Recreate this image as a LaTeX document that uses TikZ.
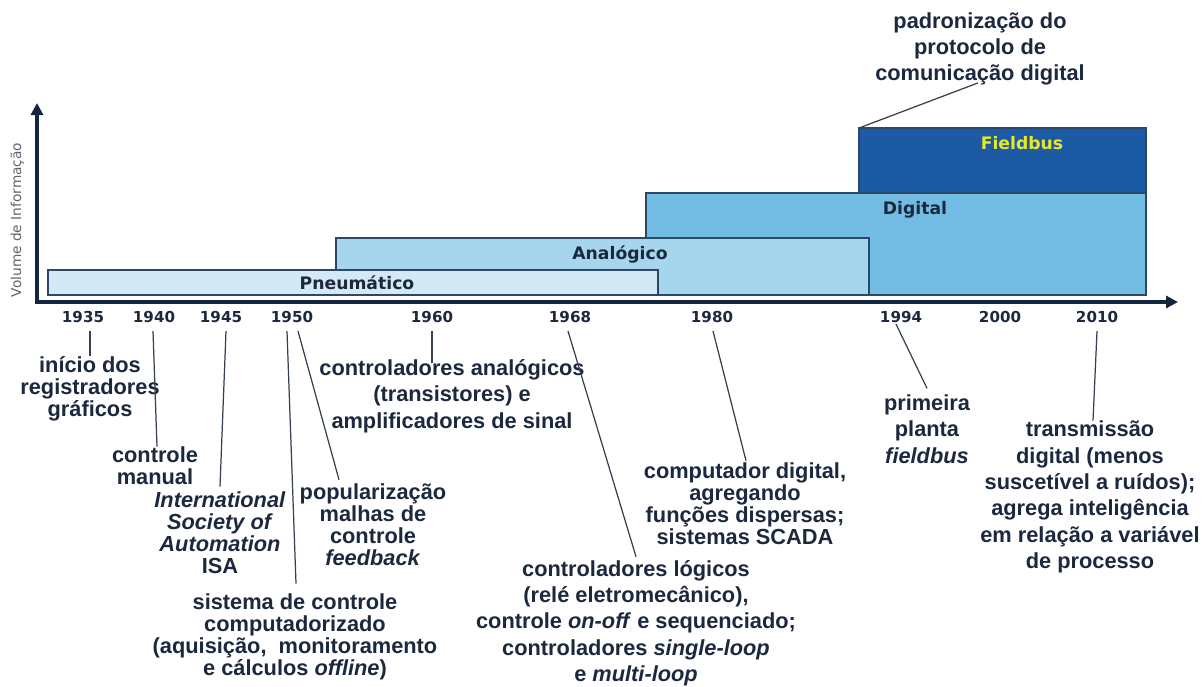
\documentclass[tikz,border=0pt]{standalone}
\usepackage{fontspec}
\setmainfont{Liberation Sans}
\newfontfamily\verdfont{DejaVu Sans}
\usetikzlibrary{%
	calc,%
	arrows.meta,%
}
\definecolor{ctext}{RGB}{28, 40, 62}
\definecolor{caxis}{RGB}{20, 38, 62}
\definecolor{cborder}{RGB}{44, 72, 100}
\definecolor{cline}{RGB}{52, 64, 80}
\definecolor{cgray}{RGB}{96, 100, 110}
\definecolor{cpneu}{RGB}{212, 233, 246}
\definecolor{canalog}{RGB}{166, 214, 238}
\definecolor{cdigital}{RGB}{115, 188, 228}
\definecolor{cfield}{RGB}{28, 90, 166}
\definecolor{cyellow}{RGB}{232, 232, 38}
\tikzset{
	>=Triangle,%
	nodes={align=center},%
	event/.style={%
			font=\bfseries\fontsize{12.4}{12.5}\selectfont,%
			text=ctext,%
			inner sep=0},%
	loose/.style={%
			font=\bfseries\fontsize{12.4}{15}\selectfont},%
	year/.style={%
			font=\verdfont\bfseries\fontsize{8.6}{10}\selectfont,%
			text=ctext,%
			inner sep=0},%
	phase/.style={%
			draw=cborder,%
			line width=1pt,%
			rectangle,%
			inner sep=0,%
			outer sep=0,%
			anchor=north west},%
	phasename/.style={%
			font=\verdfont\bfseries\fontsize{9.8}{11}\selectfont,%
			text=ctext,%
			inner sep=0},%
	leader/.style={%
			draw=cline,%
			line width=0.7pt},%
	axis/.style={%
			draw=caxis,%
			line width=1.8pt},%
}

\begin{document}
\begin{tikzpicture}[x=0.2mm, y=-0.2mm]%
	\useasboundingbox (0,0) rectangle (1204,686);

	% fases
	\node[phase, fill=cdigital, minimum width=100mm, minimum height=20.4mm] (digital) at (646,193) {};
	\node[phase, fill=cfield, minimum width=57.4mm, minimum height=13mm] (fieldbus) at (859,128) {};
	\node[phase, fill=canalog, minimum width=106.6mm, minimum height=11.4mm] (analog) at (336,238) {};
	\node[phase, fill=cpneu, minimum width=122mm, minimum height=5mm] (pneu) at (48,270) {};

	\node[phasename] (tpneu) at (357,283) {Pneumático};
	\node[phasename] (tanalog) at (620,254) {Analógico};
	\node[phasename] (tdigital) at (915,210) {Digital};
	\node[phasename, text=cyellow] (tfield) at (1022,143) {Fieldbus};

	% eixos
	\coordinate (origin) at (37,302);
	\coordinate (ytip) at (37,103);
	\coordinate (xtip) at (1178,302);
	\draw[axis, {Triangle[length=2.4mm, width=2.4mm]}-{Triangle[length=2.4mm, width=2.4mm]}] (ytip) -- (origin) -- (xtip);
	\node[font=\verdfont\fontsize{7.8}{9}\selectfont, text=cgray, inner sep=0, rotate=90] (ylab) at (17,220) {Volume de Informação};

	% anos
	\node[year] (y1935) at (83,317) {1935};
	\node[year] (y1940) at (154,317) {1940};
	\node[year] (y1945) at (221,317) {1945};
	\node[year] (y1950) at (292,317) {1950};
	\node[year] (y1960) at (432,317) {1960};
	\node[year] (y1968) at (570,317) {1968};
	\node[year] (y1980) at (712,317) {1980};
	\node[year] (y1994) at (901,317) {1994};
	\node[year] (y2000) at (1000,317) {2000};
	\node[year] (y2010) at (1097,317) {2010};

	% eventos
	\node[event] (lab1935) at (90,389) {início dos\\registradores\\gráficos};
	\node[event] (lab1940) at (155,466) {controle\\manual};
	\node[event] (lab1945) at (220,533) {\textit{International}\\\textit{Society of}\\\textit{Automation}\\ISA};
	\node[event] (lab1950a) at (295,637) {sistema de controle\\computadorizado\\(aquisição,\ \ monitoramento\\e cálculos \textit{offline})};
	\node[event] (lab1950b) at (373,525) {popularização\\malhas de\\controle\\\textit{feedback}};
	\node[event, loose] (lab1960) at (452,396) {controladores analógicos\\(transistores) e\\amplificadores de sinal};
	\node[event, loose] (lab1968) at (636,623) {controladores lógicos\\(relé eletromecânico),\\controle \textit{on-off} e sequenciado;\\controladores \textit{single-loop}\\e \textit{multi-loop}};
	\node[event] (lab1980) at (745,504) {computador digital,\\agregando\\funções dispersas;\\sistemas SCADA};
	\node[event, loose] (lab1994) at (927,429) {primeira\\planta\\\textit{fieldbus}};
	\node[event, loose] (lab2010) at (1090,497) {transmissão\\digital (menos\\suscetível a ruídos);\\agrega inteligência\\em relação a variável\\de processo};
	\node[event, loose] (labtop) at (980,49) {padronização do\\protocolo de\\comunicação digital};

	\draw[leader] ($(y1935.south)+(7,8)$) -- (lab1935.north);
	\draw[leader] ($(y1940.south)+(-1,8)$) -- ($(lab1940.north)+(2,0)$);
	\draw[leader] ($(y1945.south)+(5,8)$) -- ($(lab1945.north)+(0,-5)$);
	\draw[leader] ($(y1950.south)+(-5,8)$) -- ($(lab1950a.north)+(1,-10)$);
	\draw[leader] ($(y1950.south)+(6,8)$) -- ($(lab1950b.north)+(-34,-4)$);
	\draw[leader] ($(y1960.south)+(0,8)$) -- ($(lab1960.north)+(-20,4)$);
	\draw[leader] ($(y1968.south)+(-2,8)$) -- ($(lab1968.north)+(0,-3)$);
	\draw[leader] ($(y1980.south)+(1,8)$) -- ($(lab1980.north)+(1,-2)$);
	\draw[leader] ($(y1994.south)+(-5,1)$) -- ($(lab1994.north)+(0,-6)$);
	\draw[leader] ($(y2010.south)+(0,8)$) -- ($(lab2010.north)+(3,0)$);
	\draw[leader] ($(labtop.south)+(-2,-3)$) -- (fieldbus.north west);
\end{tikzpicture}
\end{document}
